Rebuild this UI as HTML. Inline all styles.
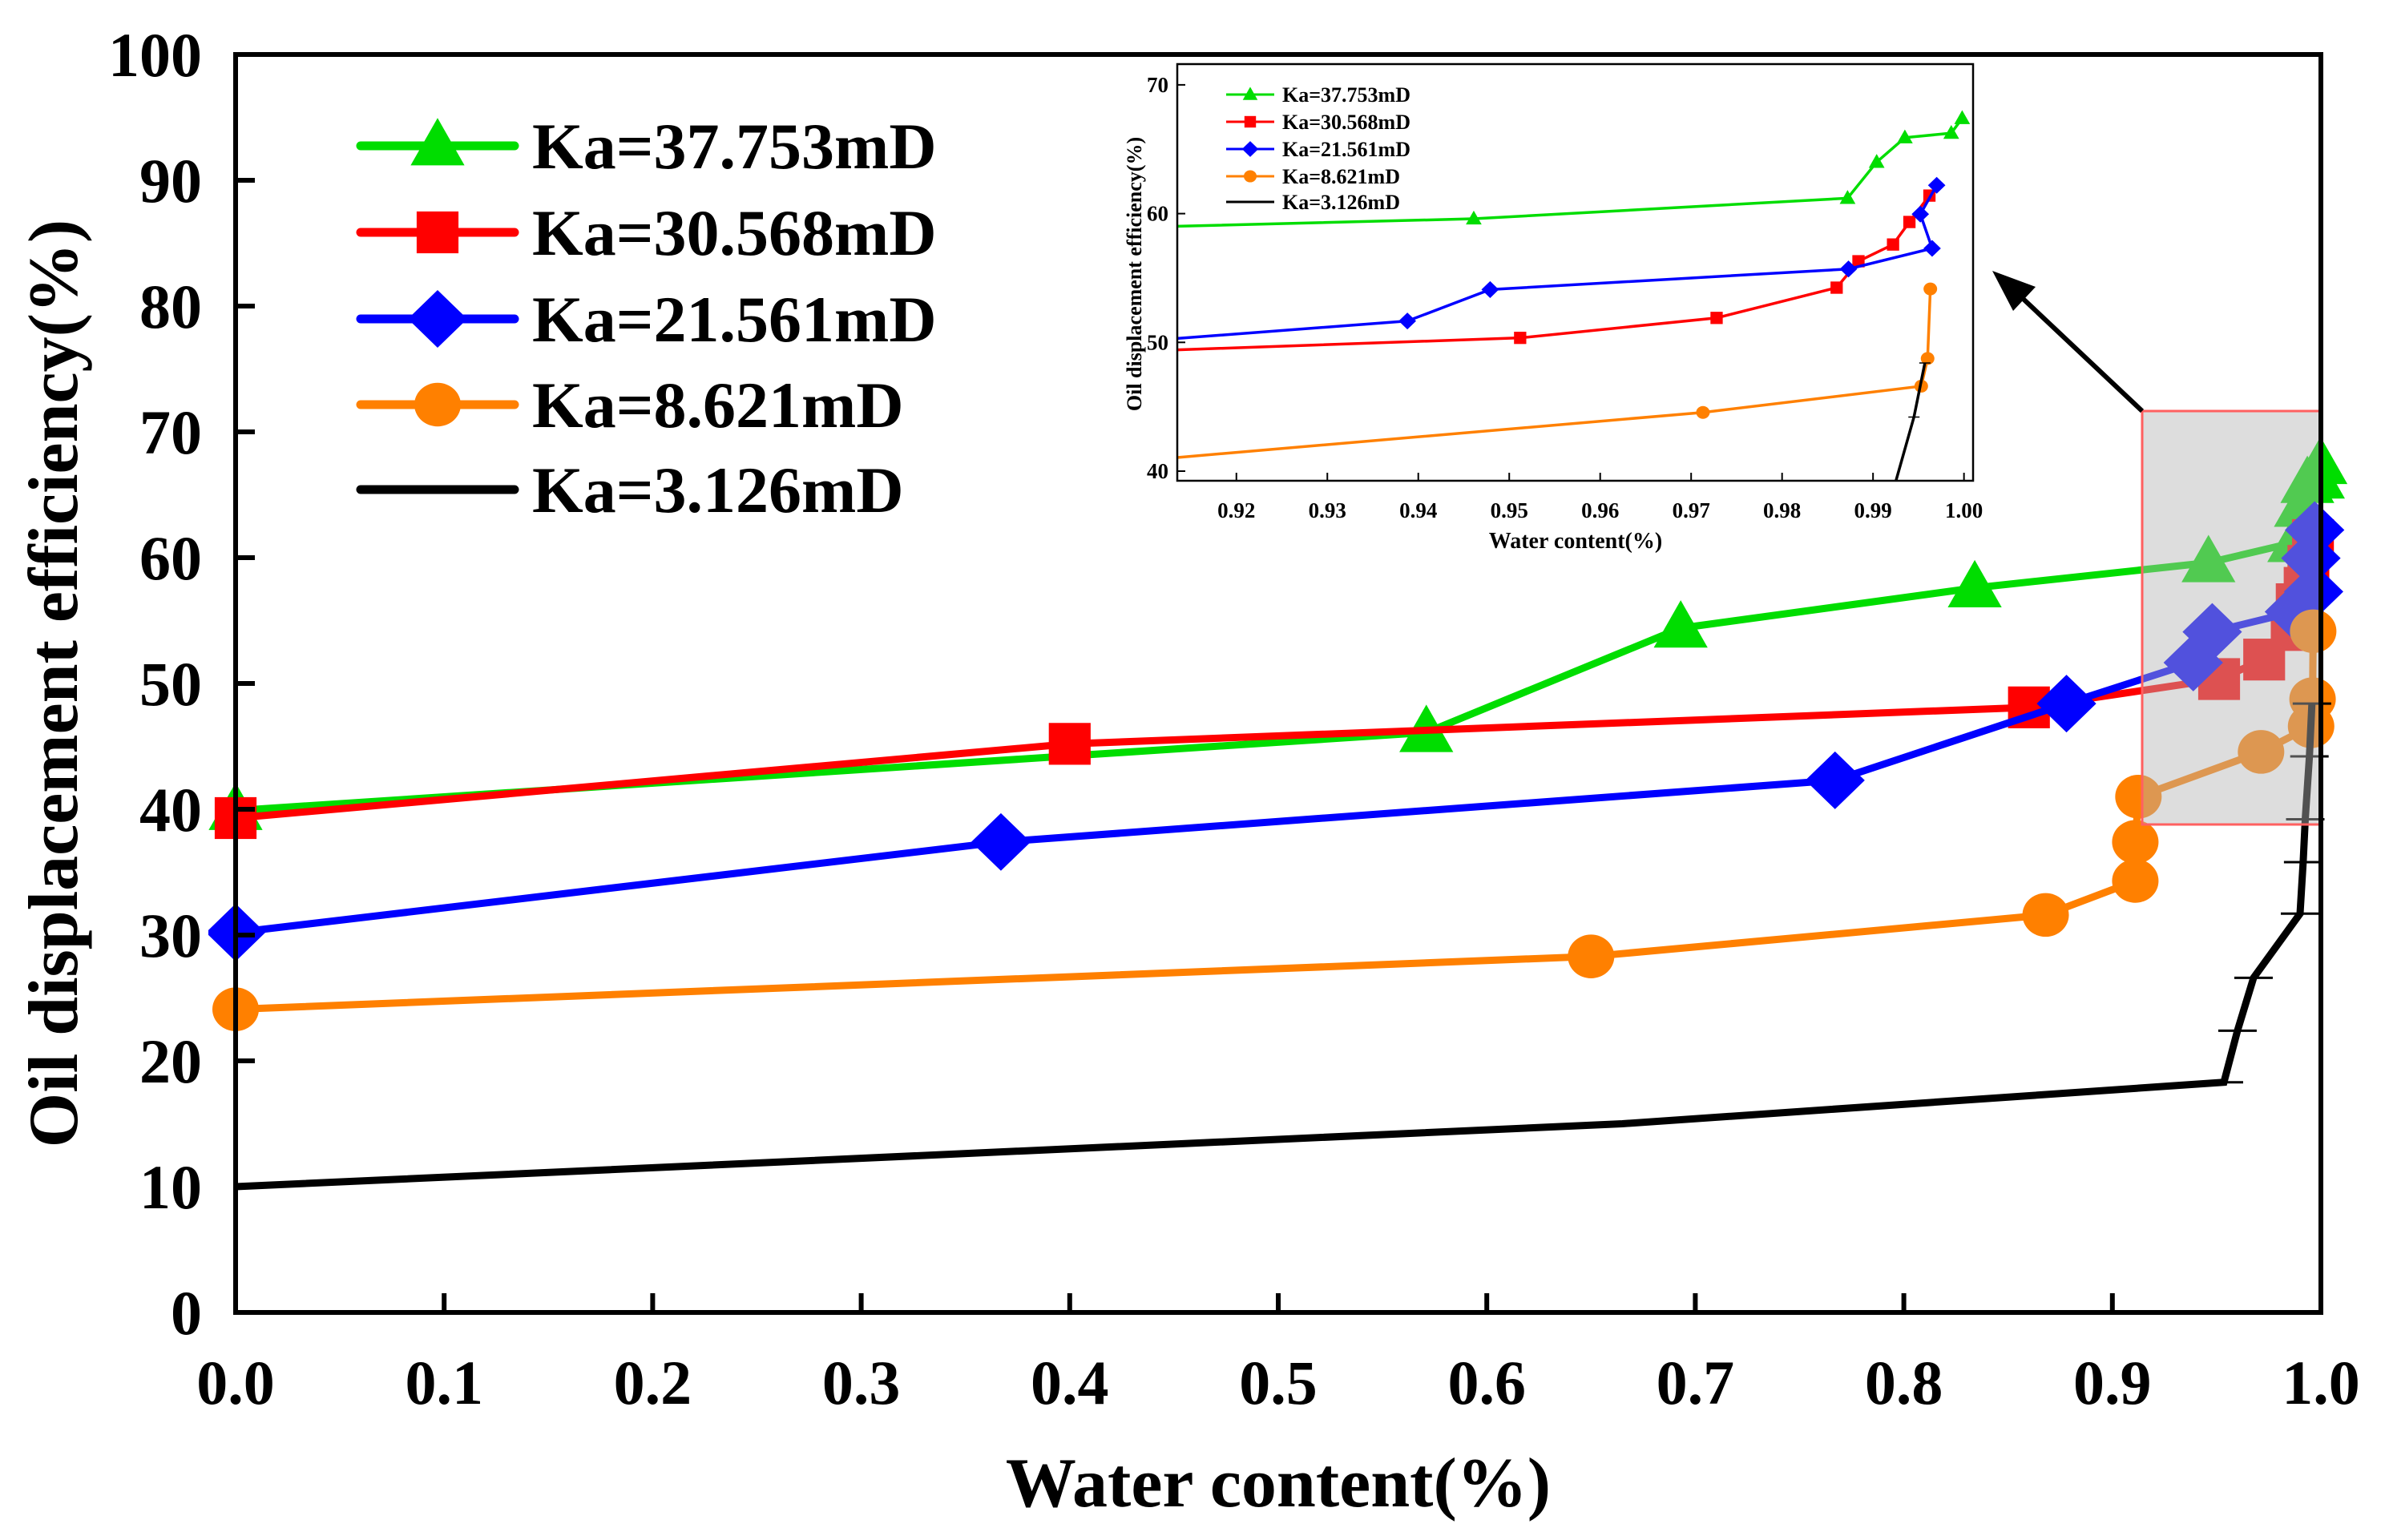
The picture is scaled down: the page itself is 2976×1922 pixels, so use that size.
<!DOCTYPE html>
<html><head><meta charset="utf-8"><style>
html,body{margin:0;padding:0;background:#fff}
svg{display:block}
text{font-family:"Liberation Serif",serif;font-weight:bold}
</style></head><body>
<svg id="chart" width="2976" height="1922" viewBox="0 0 2976 1922" xmlns="http://www.w3.org/2000/svg">
<defs><clipPath id="insetClip"><rect x="1469" y="80" width="993" height="520"/></clipPath>
<clipPath id="mainClip"><rect x="260" y="40" width="2680" height="1640"/></clipPath></defs>
<g id="main"></g>
<g id="inset"></g>
</svg>
<script>
const seriesNames = ["Ka=37.753mD","Ka=30.568mD","Ka=21.561mD","Ka=8.621mD","Ka=3.126mD"];
const seriesColors = ["#00dd00","#ff0000","#0000ff","#ff8000","#000000"];
const seriesMarkers = ["triangle","square","diamond","circle","none"];
const greenX = [0, 0.571, 0.693, 0.834, 0.9461, 0.9872, 0.9904, 0.9935, 0.9986, 0.9998];
const greenY = [39.9, 46.1, 54.4, 57.6, 59.6, 61.2, 64.0, 65.9, 66.25, 67.4];
const redX = [0, 0.4, 0.86, 0.9512, 0.9728, 0.986, 0.9884, 0.9922, 0.994, 0.9962];
const redY = [39.3, 45.2, 48.1, 50.35, 51.9, 54.25, 56.3, 57.6, 59.35, 61.4];
const blueX = [0, 0.367, 0.767, 0.878, 0.9388, 0.9479, 0.9873, 0.9965, 0.9952, 0.997];
const blueY = [30.2, 37.4, 42.3, 48.4, 51.66, 54.1, 55.7, 57.3, 59.96, 62.2];
const orangeX = [0, 0.65, 0.868, 0.911, 0.911, 0.9125, 0.9713, 0.9953, 0.996, 0.9963];
const orangeY = [24.1, 28.3, 31.6, 34.3, 37.4, 41.0, 44.56, 46.6, 48.75, 54.15];
const blackX = [0, 0.665, 0.9535, 0.960, 0.9677, 0.990, 0.9915, 0.9925, 0.9945, 0.9957];
const blackY = [10, 15, 18.3, 22.4, 26.6, 31.7, 35.8, 39.2, 44.2, 48.4];
const mainXTicks = [0,0.1,0.2,0.3,0.4,0.5,0.6,0.7,0.8,0.9,1.0];
const mainXTickLabels = ["0.0","0.1","0.2","0.3","0.4","0.5","0.6","0.7","0.8","0.9","1.0"];
const mainYTicks = [0,10,20,30,40,50,60,70,80,90,100];
const insetXTicks = [0.92,0.93,0.94,0.95,0.96,0.97,0.98,0.99,1.00];
const insetXTickLabels = ["0.92","0.93","0.94","0.95","0.96","0.97","0.98","0.99","1.00"];
const insetYTicks = [40,50,60,70];

const NS="http://www.w3.org/2000/svg";
function mk(parent,tag,attrs){const e=document.createElementNS(NS,tag);for(const k in attrs)e.setAttribute(k,attrs[k]);parent.appendChild(e);return e;}
const allX=[greenX,redX,blueX,orangeX,blackX], allY=[greenY,redY,blueY,orangeY,blackY];

function marker(g,type,cx,cy,s,color){
  let e;
  if(type==="triangle"){e=mk(g,"polygon",{points:`${cx},${cy-s*0.6} ${cx-s*0.58},${cy+s*0.42} ${cx+s*0.58},${cy+s*0.42}`,fill:color});}
  else if(type==="square"){e=mk(g,"rect",{x:cx-s*0.45,y:cy-s*0.45,width:s*0.9,height:s*0.9,fill:color});}
  else if(type==="diamond"){e=mk(g,"polygon",{points:`${cx},${cy-s*0.62} ${cx+s*0.64},${cy} ${cx},${cy+s*0.62} ${cx-s*0.64},${cy}`,fill:color});}
  else if(type==="circle"){e=mk(g,"ellipse",{cx:cx,cy:cy,rx:s*0.5,ry:s*0.47,fill:color});}
  return e;
}

function drawPlot(g,X,Y,o){
  const order=[0,1,2,3,4];
  order.forEach(i=>{
    const sg=mk(g,"g",{"clip-path":o.clip});
    
    
    const pts=allX[i].map((x,j)=>X(x)+","+Y(allY[i][j])).join(" ");
    const pl=mk(sg,"polyline",{points:pts,fill:"none",stroke:seriesColors[i],"stroke-width":o.lw,"stroke-linejoin":"miter"});
    
    
    allX[i].forEach((x,j)=>{
      if(seriesMarkers[i]==="none"){
        if(j>=2){const t=mk(sg,"line",{x1:X(x)-o.eb,x2:X(x)+o.eb,y1:Y(allY[i][j]),y2:Y(allY[i][j]),stroke:"#000","stroke-width":o.ebw});
        
        }
      } else {
        const m=marker(sg,seriesMarkers[i],X(x),Y(allY[i][j]),o.ms,seriesColors[i]);
        
        
      }
    });
  });
}

// ---- main plot
const gm=document.getElementById("main");
const MX=v=>294+v*2602, MY=v=>1638-v*15.7;
drawPlot(gm,MX,MY,{lw:9,ms:58,eb:24,ebw:3,clip:"url(#mainClip)"});
const ov=mk(gm,"rect",{x:2673,y:513,width:223,height:516,fill:"rgba(180,180,180,0.45)",stroke:"#ff6060","stroke-width":3});


const fr=mk(gm,"rect",{x:294,y:68,width:2602,height:1570,fill:"none",stroke:"#000","stroke-width":6});


mainXTicks.forEach((t,i)=>{
  const l=mk(gm,"line",{x1:MX(t),x2:MX(t),y1:1638,y2:1614,stroke:"#000","stroke-width":6});
  
  
  const tx=mk(gm,"text",{x:MX(t),y:1752,"text-anchor":"middle","font-size":78});
  tx.textContent=mainXTickLabels[i];
  
  
});
mainYTicks.forEach(t=>{
  const l=mk(gm,"line",{x1:294,x2:318,y1:MY(t),y2:MY(t),stroke:"#000","stroke-width":6});
  
  
  const tx=mk(gm,"text",{x:252,y:MY(t)+27,"text-anchor":"end","font-size":78});
  tx.textContent=String(t);
  
  
});
const xt=mk(gm,"text",{x:1595,y:1880,"text-anchor":"middle","font-size":88});
xt.textContent="Water content(%)";


const yt=mk(gm,"text",{x:0,y:0,"text-anchor":"middle","font-size":88,transform:"translate(96,853) rotate(-90)"});
yt.textContent="Oil displacement efficiency(%)";


const legRows=[182,290,398,505,611];
seriesNames.forEach((n,i)=>{
  const lg=mk(gm,"g",{});
  
  
  mk(lg,"line",{x1:450,x2:642,y1:legRows[i],y2:legRows[i],stroke:seriesColors[i],"stroke-width":11,"stroke-linecap":"round"});
  if(seriesMarkers[i]!=="none") marker(lg,seriesMarkers[i],546,legRows[i],58,seriesColors[i]);
  const t=mk(lg,"text",{x:664,y:legRows[i]+28,"font-size":82});
  t.textContent=n;
});
const ar=mk(gm,"g",{});


mk(ar,"line",{x1:2673,y1:513,x2:2515,y2:364,stroke:"#000","stroke-width":6});
mk(ar,"polygon",{points:"2486,338 2540,358 2512,388",fill:"#000"});

// ---- inset
const gi=document.getElementById("inset");
const bg=mk(gi,"rect",{x:1469,y:80,width:993,height:520,fill:"#fff"});


const IX=v=>1469+(v-0.9135)/(1.001-0.9135)*993, IY=v=>588-(v-40)*16.07;
drawPlot(gi,IX,IY,{lw:3.5,ms:17,eb:7,ebw:1.5,clip:"url(#insetClip)"});
const ifr=mk(gi,"rect",{x:1469,y:80,width:993,height:520,fill:"none",stroke:"#000","stroke-width":2.5});


insetXTicks.forEach((t,i)=>{
  const l=mk(gi,"line",{x1:IX(t),x2:IX(t),y1:600,y2:590,stroke:"#000","stroke-width":2});
  
  
  const tx=mk(gi,"text",{x:IX(t),y:646,"text-anchor":"middle","font-size":27});
  tx.textContent=insetXTickLabels[i];
  
  
});
insetYTicks.forEach(t=>{
  const l=mk(gi,"line",{x1:1469,x2:1479,y1:IY(t),y2:IY(t),stroke:"#000","stroke-width":2});
  
  
  const tx=mk(gi,"text",{x:1458,y:IY(t)+9,"text-anchor":"end","font-size":27});
  tx.textContent=String(t);
  
  
});
const ixt=mk(gi,"text",{x:1966,y:684,"text-anchor":"middle","font-size":28});
ixt.textContent="Water content(%)";


const iyt=mk(gi,"text",{x:0,y:0,"text-anchor":"middle","font-size":26,transform:"translate(1424,342) rotate(-90)"});
iyt.textContent="Oil displacement efficiency(%)";


const iRows=[118,152,186,220,252];
seriesNames.forEach((n,i)=>{
  const lg=mk(gi,"g",{});
  
  
  mk(lg,"line",{x1:1530,x2:1590,y1:iRows[i],y2:iRows[i],stroke:seriesColors[i],"stroke-width":3});
  if(seriesMarkers[i]!=="none") marker(lg,seriesMarkers[i],1560,iRows[i],16,seriesColors[i]);
  const t=mk(lg,"text",{x:1600,y:iRows[i]+9,"font-size":26});
  t.textContent=n;
});
</script>
</body></html>
